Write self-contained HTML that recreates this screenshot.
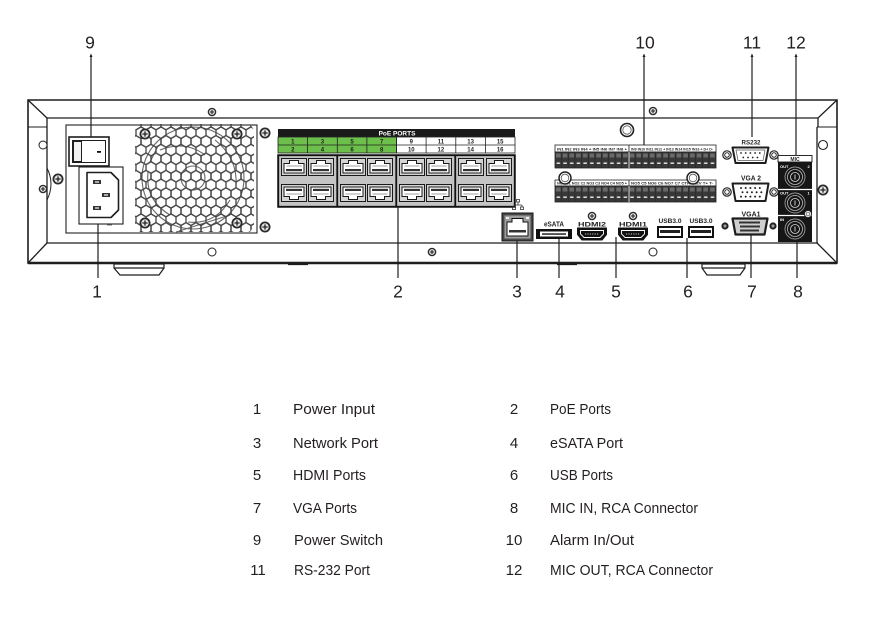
<!DOCTYPE html>
<html><head><meta charset="utf-8">
<style>
html,body{margin:0;padding:0;background:#fff;}
svg{display:block;}
text{font-family:"Liberation Sans",sans-serif;fill:#231f20;}
.b{font-weight:bold;}
</style></head><body>
<svg width="886" height="620" viewBox="0 0 886 620" xmlns="http://www.w3.org/2000/svg" xmlns:xlink="http://www.w3.org/1999/xlink">
<defs>
  <polygon id="hx" points="0,-5.8 5,-2.9 5,2.9 0,5.8 -5,2.9 -5,-2.9" fill="none" stroke="#444" stroke-width="1.3"/>
  <pattern id="hex" patternUnits="userSpaceOnUse" x="136" y="124" width="10" height="17.4">
    <use xlink:href="#hx" x="0" y="0"/>
    <use xlink:href="#hx" x="10" y="0"/>
    <use xlink:href="#hx" x="5" y="8.7"/>
    <use xlink:href="#hx" x="0" y="17.4"/>
    <use xlink:href="#hx" x="10" y="17.4"/>
  </pattern>
  <clipPath id="grc"><path d="M140,124 H250 L254,130 V226 L250,232 H140 L135,226 V130 Z"/></clipPath>
  <g id="scr"><circle r="5.5" fill="#2a2a2a"/><circle r="3.7" fill="#e6e6e6"/><path d="M-2.6,0H2.6M0,-2.6V2.6" stroke="#222" stroke-width="1.3"/></g>
  <g id="scrs"><circle r="4.3" fill="#2a2a2a"/><circle r="2.9" fill="#e6e6e6"/><path d="M-2,0H2M0,-2V2" stroke="#222" stroke-width="1.1"/></g>
  <g id="nut"><circle r="4.2" fill="#fff" stroke="#222" stroke-width="1.2"/><circle r="2.3" fill="#fff" stroke="#222" stroke-width="0.9"/></g>
  <g id="rj">
    <rect x="0.5" y="0.5" width="25" height="17" fill="#d4d4d4" stroke="#1a1a1a" stroke-width="1"/>
    <path d="M3,5.5H8.5V2.5H17.5V5.5H23V15H3Z" fill="#fff" stroke="#1a1a1a" stroke-width="1"/>
    <rect x="5" y="11" width="16" height="2.2" fill="#333"/>
    <path d="M5.5,8h15" stroke="#888" stroke-width="0.8"/>
  </g>
  <pattern id="t1" patternUnits="userSpaceOnUse" x="555" y="152" width="6.7" height="16">
    <rect width="6.7" height="16" fill="#383838"/>
    <rect x="1" y="1.5" width="4.7" height="4" fill="#6a6a6a"/>
    <rect x="1.6" y="10.5" width="3.5" height="1.4" fill="#eee"/>
    <rect x="6.2" y="0" width="0.5" height="16" fill="#222"/>
  </pattern>
  <pattern id="t2" patternUnits="userSpaceOnUse" x="555" y="186" width="6.7" height="16">
    <rect width="6.7" height="16" fill="#383838"/>
    <rect x="1" y="1.5" width="4.7" height="4" fill="#6a6a6a"/>
    <rect x="1.6" y="10.5" width="3.5" height="1.4" fill="#eee"/>
    <rect x="6.2" y="0" width="0.5" height="16" fill="#222"/>
  </pattern>
  <g id="hdmi">
    <path d="M0.5,0.5H29.5V7L25,12.5H5L0.5,7Z" fill="#111" stroke="#111" stroke-linejoin="round"/>
    <path d="M3.5,3H26.5V6.5L23,10H7L3.5,6.5Z" fill="none" stroke="#fff" stroke-width="0.9"/>
    <path d="M8,6.5h14" stroke="#fff" stroke-width="0.7" stroke-dasharray="1.2 1.2"/>
  </g>
  <g id="usb">
    <rect x="0" y="0" width="26" height="12" fill="#111"/>
    <rect x="2" y="2" width="22" height="8" fill="#fff"/>
    <rect x="3" y="4" width="20" height="3" fill="#222"/>
  </g>
  <g id="rca">
    <circle r="10" fill="none" stroke="#9a9a9a" stroke-width="0.9"/>
    <circle r="7.5" fill="none" stroke="#bdbdbd" stroke-width="0.8"/>
    <circle r="4.5" fill="none" stroke="#ddd" stroke-width="0.8"/>
    <path d="M0,-2.5V2.5" stroke="#ddd" stroke-width="0.9"/>
  </g>
</defs>

<!-- ===== Frame ===== -->
<g fill="none" stroke="#1e1e1e" stroke-width="1.3">
  <path d="M28,100 H837 V263 H28 Z" stroke-width="1.6"/>
  <path d="M28,263 H837" stroke-width="2.4"/>
  <path d="M47,118 H818"/>
  <path d="M47,243 H818"/>
  <path d="M47,118 V243"/>
  <path d="M817,127 V243"/>
  <path d="M28,100 L47,118"/>
  <path d="M837,100 L818,118 V127"/>
  <path d="M28,263 L47,243"/>
  <path d="M837,263 L817,243"/>
  <path d="M28,127 H47" stroke-width="1"/>
  <path d="M817,127 H837" stroke-width="1"/>
  <path d="M47,168 Q55,184 47,200" stroke-width="1"/>
</g>
<!-- feet -->
<g fill="#fff" stroke="#1e1e1e" stroke-width="1.2">
  <path d="M114,264 H164 V268 L159,275 H120 L114,268 Z"/>
  <path d="M114,268 H164"/>
  <path d="M288,264.5 H308"/>
  <path d="M557,264.5 H577"/>
  <path d="M702,264 H745 V268 L740,275 H707 L702,268 Z"/>
  <path d="M702,268 H745"/>
</g>

<!-- side holes & screws -->
<circle cx="43" cy="145" r="4" fill="#fff" stroke="#222" stroke-width="1"/>
<use xlink:href="#scr" x="58" y="179"/>
<use xlink:href="#scrs" x="43" y="189"/>
<circle cx="823" cy="145" r="4.5" fill="#fff" stroke="#222" stroke-width="1.1"/>
<use xlink:href="#scr" x="823" y="190"/>
<use xlink:href="#scrs" x="212" y="112"/>
<circle cx="212" cy="252" r="4" fill="#fff" stroke="#222" stroke-width="1"/>
<use xlink:href="#scrs" x="432" y="252"/>
<use xlink:href="#scrs" x="653" y="111"/>
<circle cx="653" cy="252" r="4" fill="#fff" stroke="#222" stroke-width="1"/>
<circle cx="627" cy="130" r="6.5" fill="#fff" stroke="#222" stroke-width="1.6"/>
<circle cx="627" cy="130" r="4.2" fill="#fff" stroke="#555" stroke-width="0.8"/>

<!-- ===== PSU panel ===== -->
<rect x="66" y="125" width="191" height="108" fill="#fff" stroke="#222" stroke-width="1.1"/>
<!-- switch -->
<rect x="69" y="137" width="40" height="29" fill="#fff" stroke="#1e1e1e" stroke-width="1.6"/>
<rect x="72.5" y="140.5" width="33" height="22" fill="#fff" stroke="#1e1e1e" stroke-width="1"/>
<rect x="73.5" y="141.5" width="8" height="20" fill="#f2f2f2" stroke="#1e1e1e" stroke-width="1"/>
<rect x="97" y="151" width="4" height="1.8" fill="#111"/>
<!-- inlet -->
<rect x="79" y="167" width="44" height="57" fill="#fff" stroke="#1e1e1e" stroke-width="1.1"/>
<path d="M87,172.5 H111 L118.5,180 V210 L111,217.5 H87 Z" fill="#fff" stroke="#1e1e1e" stroke-width="1.6" stroke-linejoin="round"/>
<g fill="#333"><rect x="93" y="180" width="8" height="4"/><rect x="102" y="193" width="8" height="4"/><rect x="93" y="206" width="8" height="4"/></g>
<g fill="#ddd"><rect x="95" y="181.3" width="4" height="1.4"/><rect x="104" y="194.3" width="4" height="1.4"/><rect x="95" y="207.3" width="4" height="1.4"/></g>
<path d="M107,225 h5" stroke="#777" stroke-width="1"/>
<!-- fan -->
<g fill="none" stroke="#666" stroke-width="1.1">
  <circle cx="193" cy="178" r="51"/>
  <path d="M160,150 Q185,140 205,155"/>
  <path d="M215,140 Q238,158 236,186"/>
  <path d="M230,200 Q215,225 188,222"/>
  <path d="M170,215 Q145,200 148,172"/>
  <path d="M150,162 L158,146"/>
  <path d="M176,232 L230,215"/>
  <circle cx="193" cy="178" r="12"/>
</g>
<rect x="135" y="124" width="119" height="108" fill="url(#hex)" clip-path="url(#grc)"/>
<use xlink:href="#scr" x="145" y="134"/>
<use xlink:href="#scr" x="237" y="134"/>
<use xlink:href="#scr" x="145" y="223"/>
<use xlink:href="#scr" x="237" y="223"/>
<use xlink:href="#scr" x="265" y="133"/>
<use xlink:href="#scr" x="265" y="227"/>

<!-- ===== PoE ports ===== -->
<rect x="278" y="129" width="237" height="8" fill="#1a1a1a"/>
<text x="397" y="135.6" font-size="6.5" class="b" text-anchor="middle" style="fill:#fff">PoE PORTS</text>
<g stroke="#222" stroke-width="0.8">
  <rect x="278" y="137" width="118.5" height="16" fill="#6cbf4a"/>
  <rect x="396.5" y="137" width="118.5" height="16" fill="#fff"/>
  <path d="M278,145H515 M307.6,137V153 M337.3,137V153 M366.9,137V153 M396.5,137V153 M426.1,137V153 M455.8,137V153 M485.4,137V153" fill="none"/>
</g>
<g font-size="6" class="b" text-anchor="middle">
  <text x="292.8" y="143.3">1</text><text x="322.4" y="143.3">3</text><text x="352.1" y="143.3">5</text><text x="381.7" y="143.3">7</text>
  <text x="411.3" y="143.3">9</text><text x="440.9" y="143.3">11</text><text x="470.6" y="143.3">13</text><text x="500.2" y="143.3">15</text>
  <text x="292.8" y="151.3">2</text><text x="322.4" y="151.3">4</text><text x="352.1" y="151.3">6</text><text x="381.7" y="151.3">8</text>
  <text x="411.3" y="151.3">10</text><text x="440.9" y="151.3">12</text><text x="470.6" y="151.3">14</text><text x="500.2" y="151.3">16</text>
</g>
<rect x="278" y="155" width="237" height="52" fill="#8d8d8d" stroke="#111" stroke-width="1.5"/>
<g fill="#c4c4c4" stroke="#111" stroke-width="1.3">
  <rect x="278.5" y="155.5" width="58.5" height="51"/>
  <rect x="337.5" y="155.5" width="58.5" height="51"/>
  <rect x="396.5" y="155.5" width="58.5" height="51"/>
  <rect x="455.5" y="155.5" width="59" height="51"/>
</g>
<g>
  <use xlink:href="#rj" x="281" y="158"/><use xlink:href="#rj" x="308" y="158"/>
  <use xlink:href="#rj" x="340" y="158"/><use xlink:href="#rj" x="367" y="158"/>
  <use xlink:href="#rj" x="399" y="158"/><use xlink:href="#rj" x="426" y="158"/>
  <use xlink:href="#rj" x="458" y="158"/><use xlink:href="#rj" x="486" y="158"/>
  <use xlink:href="#rj" transform="translate(281,202) scale(1,-1)"/><use xlink:href="#rj" transform="translate(308,202) scale(1,-1)"/>
  <use xlink:href="#rj" transform="translate(340,202) scale(1,-1)"/><use xlink:href="#rj" transform="translate(367,202) scale(1,-1)"/>
  <use xlink:href="#rj" transform="translate(399,202) scale(1,-1)"/><use xlink:href="#rj" transform="translate(426,202) scale(1,-1)"/>
  <use xlink:href="#rj" transform="translate(458,202) scale(1,-1)"/><use xlink:href="#rj" transform="translate(486,202) scale(1,-1)"/>
</g>

<!-- ===== Network port ===== -->
<g stroke="#333" stroke-width="0.8" fill="none">
  <path d="M518,202 v3 M514,205 h8 M514,205 v2 M522,205 v2"/>
  <rect x="516.5" y="199.5" width="3" height="2.5"/>
  <rect x="512.5" y="207" width="3" height="2.5"/><rect x="520.5" y="207" width="3" height="2.5"/>
</g>
<rect x="502" y="213" width="31" height="28" fill="#4a4a4a" stroke="#111" stroke-width="1"/>
<rect x="504.5" y="215.5" width="26" height="23" fill="#9e9e9e"/>
<path d="M507,222H512V218.5H523V222H528V236H507Z" fill="#fff" stroke="#111" stroke-width="1"/>
<rect x="509" y="230" width="17" height="2.5" fill="#333"/>
<rect x="506" y="217" width="3" height="2" fill="#eee"/><rect x="526" y="217" width="3" height="2" fill="#eee"/>

<!-- eSATA -->
<text x="554" y="226.5" font-size="7" class="b" text-anchor="middle" textLength="20" lengthAdjust="spacingAndGlyphs">eSATA</text>
<rect x="536" y="229" width="36" height="10" fill="#111"/>
<rect x="540" y="231.5" width="28" height="5" fill="#fff"/>
<rect x="542" y="233.3" width="24" height="1.5" fill="#222"/>

<!-- HDMI -->
<use xlink:href="#scrs" x="592" y="216"/>
<use xlink:href="#scrs" x="633" y="216"/>
<text x="592" y="226.5" font-size="6" class="b" text-anchor="middle" textLength="28" lengthAdjust="spacingAndGlyphs">HDMI2</text>
<text x="633" y="226.5" font-size="6" class="b" text-anchor="middle" textLength="28" lengthAdjust="spacingAndGlyphs">HDMI1</text>
<use xlink:href="#hdmi" x="577" y="227.5"/>
<use xlink:href="#hdmi" x="618" y="227.5"/>

<!-- USB -->
<text x="670" y="223" font-size="6.3" class="b" text-anchor="middle" textLength="23" lengthAdjust="spacingAndGlyphs">USB3.0</text>
<text x="701" y="223" font-size="6.3" class="b" text-anchor="middle" textLength="23" lengthAdjust="spacingAndGlyphs">USB3.0</text>
<use xlink:href="#usb" x="657" y="226"/>
<use xlink:href="#usb" x="688" y="226"/>

<!-- ===== Alarm terminals ===== -->
<rect x="555" y="145" width="161" height="7" fill="#fff" stroke="#222" stroke-width="0.8"/>
<rect x="555" y="152" width="161" height="16" fill="url(#t1)" stroke="#222" stroke-width="0.8"/>
<rect x="555" y="180" width="161" height="6" fill="#fff" stroke="#222" stroke-width="0.8"/>
<rect x="555" y="186" width="161" height="16" fill="url(#t2)" stroke="#222" stroke-width="0.8"/>
<path d="M629,145V168 M629,180V202" stroke="#ddd" stroke-width="1"/>
<path d="M629,145V152 M629,180V186" stroke="#222" stroke-width="0.8"/>
<g font-size="3.6" class="b">
  <text x="557" y="150.3" textLength="70" lengthAdjust="spacingAndGlyphs">IN1 IN2 IN3 IN4 + IN5 IN6 IN7 IN8 +</text>
  <text x="631" y="150.3" textLength="82" lengthAdjust="spacingAndGlyphs">IN9 IN10 IN11 IN12 + IN13 IN14 IN15 IN16 + D+ D-</text>
  <text x="557" y="184.6" textLength="70" lengthAdjust="spacingAndGlyphs">NO1 C1 NO2 C2 NO3 C3 NO4 C4 NO5 +</text>
  <text x="631" y="184.6" textLength="82" lengthAdjust="spacingAndGlyphs">NO5 C5 NO6 C6 NO7 C7 CTRL 12V    T+ T-</text>
</g>
<circle cx="565" cy="178" r="6" fill="#fff" stroke="#222" stroke-width="1.5"/>
<circle cx="565" cy="178" r="3.8" fill="none" stroke="#555" stroke-width="0.8"/>
<circle cx="693" cy="178" r="6" fill="#fff" stroke="#222" stroke-width="1.5"/>
<circle cx="693" cy="178" r="3.8" fill="none" stroke="#555" stroke-width="0.8"/>

<!-- ===== RS232 / VGA ===== -->
<text x="751" y="144.5" font-size="6.5" class="b" text-anchor="middle" textLength="19" lengthAdjust="spacingAndGlyphs">RS232</text>
<use xlink:href="#nut" x="727" y="155"/><use xlink:href="#nut" x="774" y="155"/>
<path d="M732.5,147.5 H768.5 L765.5,163 H735.5 Z" fill="#fff" stroke="#1e1e1e" stroke-width="2" stroke-linejoin="round"/>
<path d="M736,150 H765 L763,160.5 H738 Z" fill="none" stroke="#555" stroke-width="0.7" stroke-linejoin="round"/>
<g fill="#222"><circle cx="741" cy="153" r="0.9"/><circle cx="745.7" cy="153" r="0.9"/><circle cx="750.4" cy="153" r="0.9"/><circle cx="755.1" cy="153" r="0.9"/><circle cx="759.8" cy="153" r="0.9"/>
<circle cx="743.3" cy="157.5" r="0.9"/><circle cx="748" cy="157.5" r="0.9"/><circle cx="752.7" cy="157.5" r="0.9"/><circle cx="757.4" cy="157.5" r="0.9"/></g>

<text x="751" y="180.5" font-size="7" class="b" text-anchor="middle" textLength="20" lengthAdjust="spacingAndGlyphs">VGA 2</text>
<use xlink:href="#nut" x="727" y="192"/><use xlink:href="#nut" x="774" y="192"/>
<path d="M732.5,183.5 H768.5 L765.5,201 H735.5 Z" fill="#fff" stroke="#1e1e1e" stroke-width="2" stroke-linejoin="round"/>
<g fill="#222">
  <circle cx="741" cy="188" r="1"/><circle cx="745.7" cy="188" r="1"/><circle cx="750.4" cy="188" r="1"/><circle cx="755.1" cy="188" r="1"/><circle cx="759.8" cy="188" r="1"/>
  <circle cx="742.5" cy="192.3" r="1"/><circle cx="747.2" cy="192.3" r="1"/><circle cx="751.9" cy="192.3" r="1"/><circle cx="756.6" cy="192.3" r="1"/><circle cx="761.3" cy="192.3" r="1"/>
  <circle cx="741" cy="196.6" r="1"/><circle cx="745.7" cy="196.6" r="1"/><circle cx="750.4" cy="196.6" r="1"/><circle cx="755.1" cy="196.6" r="1"/><circle cx="759.8" cy="196.6" r="1"/>
</g>

<text x="751" y="216.5" font-size="7" class="b" text-anchor="middle" textLength="19" lengthAdjust="spacingAndGlyphs">VGA1</text>
<circle cx="725" cy="226" r="3.6" fill="#222"/><circle cx="725" cy="226" r="1.6" fill="#999"/>
<circle cx="773" cy="226" r="3.6" fill="#222"/><circle cx="773" cy="226" r="1.6" fill="#999"/>
<path d="M732.5,218.5 H767.5 L764.5,234.5 H735.5 Z" fill="#cfcfcf" stroke="#1e1e1e" stroke-width="2.2" stroke-linejoin="round"/>
<g fill="#333">
  <rect x="739" y="221.5" width="21" height="2"/><rect x="740" y="225.5" width="20" height="2"/><rect x="740" y="229.5" width="19" height="2"/>
</g>

<!-- ===== MIC ===== -->
<rect x="778" y="155.5" width="34" height="6.5" fill="#fff" stroke="#111" stroke-width="0.9"/>
<text x="795" y="160.8" font-size="5" class="b" text-anchor="middle">MIC</text>
<rect x="778" y="162" width="34" height="80" fill="#161616"/>
<path d="M778,189.5H812 M778,215.5H812" stroke="#fff" stroke-width="1.3"/>
<use xlink:href="#rca" x="795" y="177"/>
<use xlink:href="#rca" x="795" y="203"/>
<use xlink:href="#rca" x="795" y="229"/>
<g font-size="4" class="b" style="fill:#fff">
  <text x="780" y="168" style="fill:#fff">OUT</text><text x="807.5" y="168" style="fill:#fff">2</text>
  <text x="780" y="194.5" style="fill:#fff">OUT</text><text x="807.5" y="194.5" style="fill:#fff">1</text>
  <text x="780" y="221" style="fill:#fff">IN</text>
</g>
<circle cx="808" cy="214" r="3.6" fill="#eee" stroke="#222" stroke-width="1"/>
<circle cx="808" cy="214" r="1.8" fill="none" stroke="#555" stroke-width="0.7"/>

<!-- ===== Callout lines ===== -->
<g stroke="#1e1e1e" stroke-width="1.2">
  <path d="M91,55V137"/>
  <path d="M644,55V145"/>
  <path d="M752,55V137"/>
  <path d="M796,55V155"/>
  <path d="M98,224V278"/>
  <path d="M398,207V278"/>
  <path d="M517,241V278"/>
  <path d="M559,239V278"/>
  <path d="M616,237V278"/>
  <path d="M687,238V278"/>
  <path d="M751,234V278"/>
  <path d="M797,242V278"/>
</g>
<g fill="#1e1e1e">
  <path d="M89.5,57 L91,53.5 L92.5,57Z"/><path d="M642.5,57 L644,53.5 L645.5,57Z"/>
  <path d="M750.5,57 L752,53.5 L753.5,57Z"/><path d="M794.5,57 L796,53.5 L797.5,57Z"/>
</g>

<!-- numbers -->
<g font-size="17.5" text-anchor="middle">
  <text x="90" y="48.5">9</text>
  <text x="645" y="48.5">10</text>
  <text x="752" y="48.5">11</text>
  <text x="796" y="48.5">12</text>
  <text x="97" y="297.5">1</text>
  <text x="398" y="297.5">2</text>
  <text x="517" y="297.5">3</text>
  <text x="560" y="297.5">4</text>
  <text x="616" y="297.5">5</text>
  <text x="688" y="297.5">6</text>
  <text x="752" y="297.5">7</text>
  <text x="798" y="297.5">8</text>
</g>

<!-- ===== Legend ===== -->
<g font-size="15">
  <g text-anchor="middle">
    <text x="257" y="414">1</text>
    <text x="257" y="448">3</text>
    <text x="257" y="480">5</text>
    <text x="257" y="513">7</text>
    <text x="257" y="545">9</text>
    <text x="258" y="575">11</text>
    <text x="514" y="414">2</text>
    <text x="514" y="448">4</text>
    <text x="514" y="480">6</text>
    <text x="514" y="513">8</text>
    <text x="514" y="545">10</text>
    <text x="514" y="575">12</text>
  </g>
  <text x="293" y="414" textLength="82" lengthAdjust="spacingAndGlyphs">Power  Input</text>
  <text x="293" y="448" textLength="85" lengthAdjust="spacingAndGlyphs">Network Port</text>
  <text x="293" y="480" textLength="73" lengthAdjust="spacingAndGlyphs">HDMI Ports</text>
  <text x="293" y="513" textLength="64" lengthAdjust="spacingAndGlyphs">VGA Ports</text>
  <text x="294" y="545" textLength="89" lengthAdjust="spacingAndGlyphs">Power Switch</text>
  <text x="294" y="575" textLength="76" lengthAdjust="spacingAndGlyphs">RS-232 Port</text>
  <text x="550" y="414" textLength="61" lengthAdjust="spacingAndGlyphs">PoE Ports</text>
  <text x="550" y="448" textLength="73" lengthAdjust="spacingAndGlyphs">eSATA Port</text>
  <text x="550" y="480" textLength="63" lengthAdjust="spacingAndGlyphs">USB Ports</text>
  <text x="550" y="513" textLength="148" lengthAdjust="spacingAndGlyphs">MIC IN, RCA Connector</text>
  <text x="550" y="545" textLength="84" lengthAdjust="spacingAndGlyphs">Alarm In/Out</text>
  <text x="550" y="575" textLength="163" lengthAdjust="spacingAndGlyphs">MIC OUT, RCA Connector</text>
</g>
</svg>
</body></html>
